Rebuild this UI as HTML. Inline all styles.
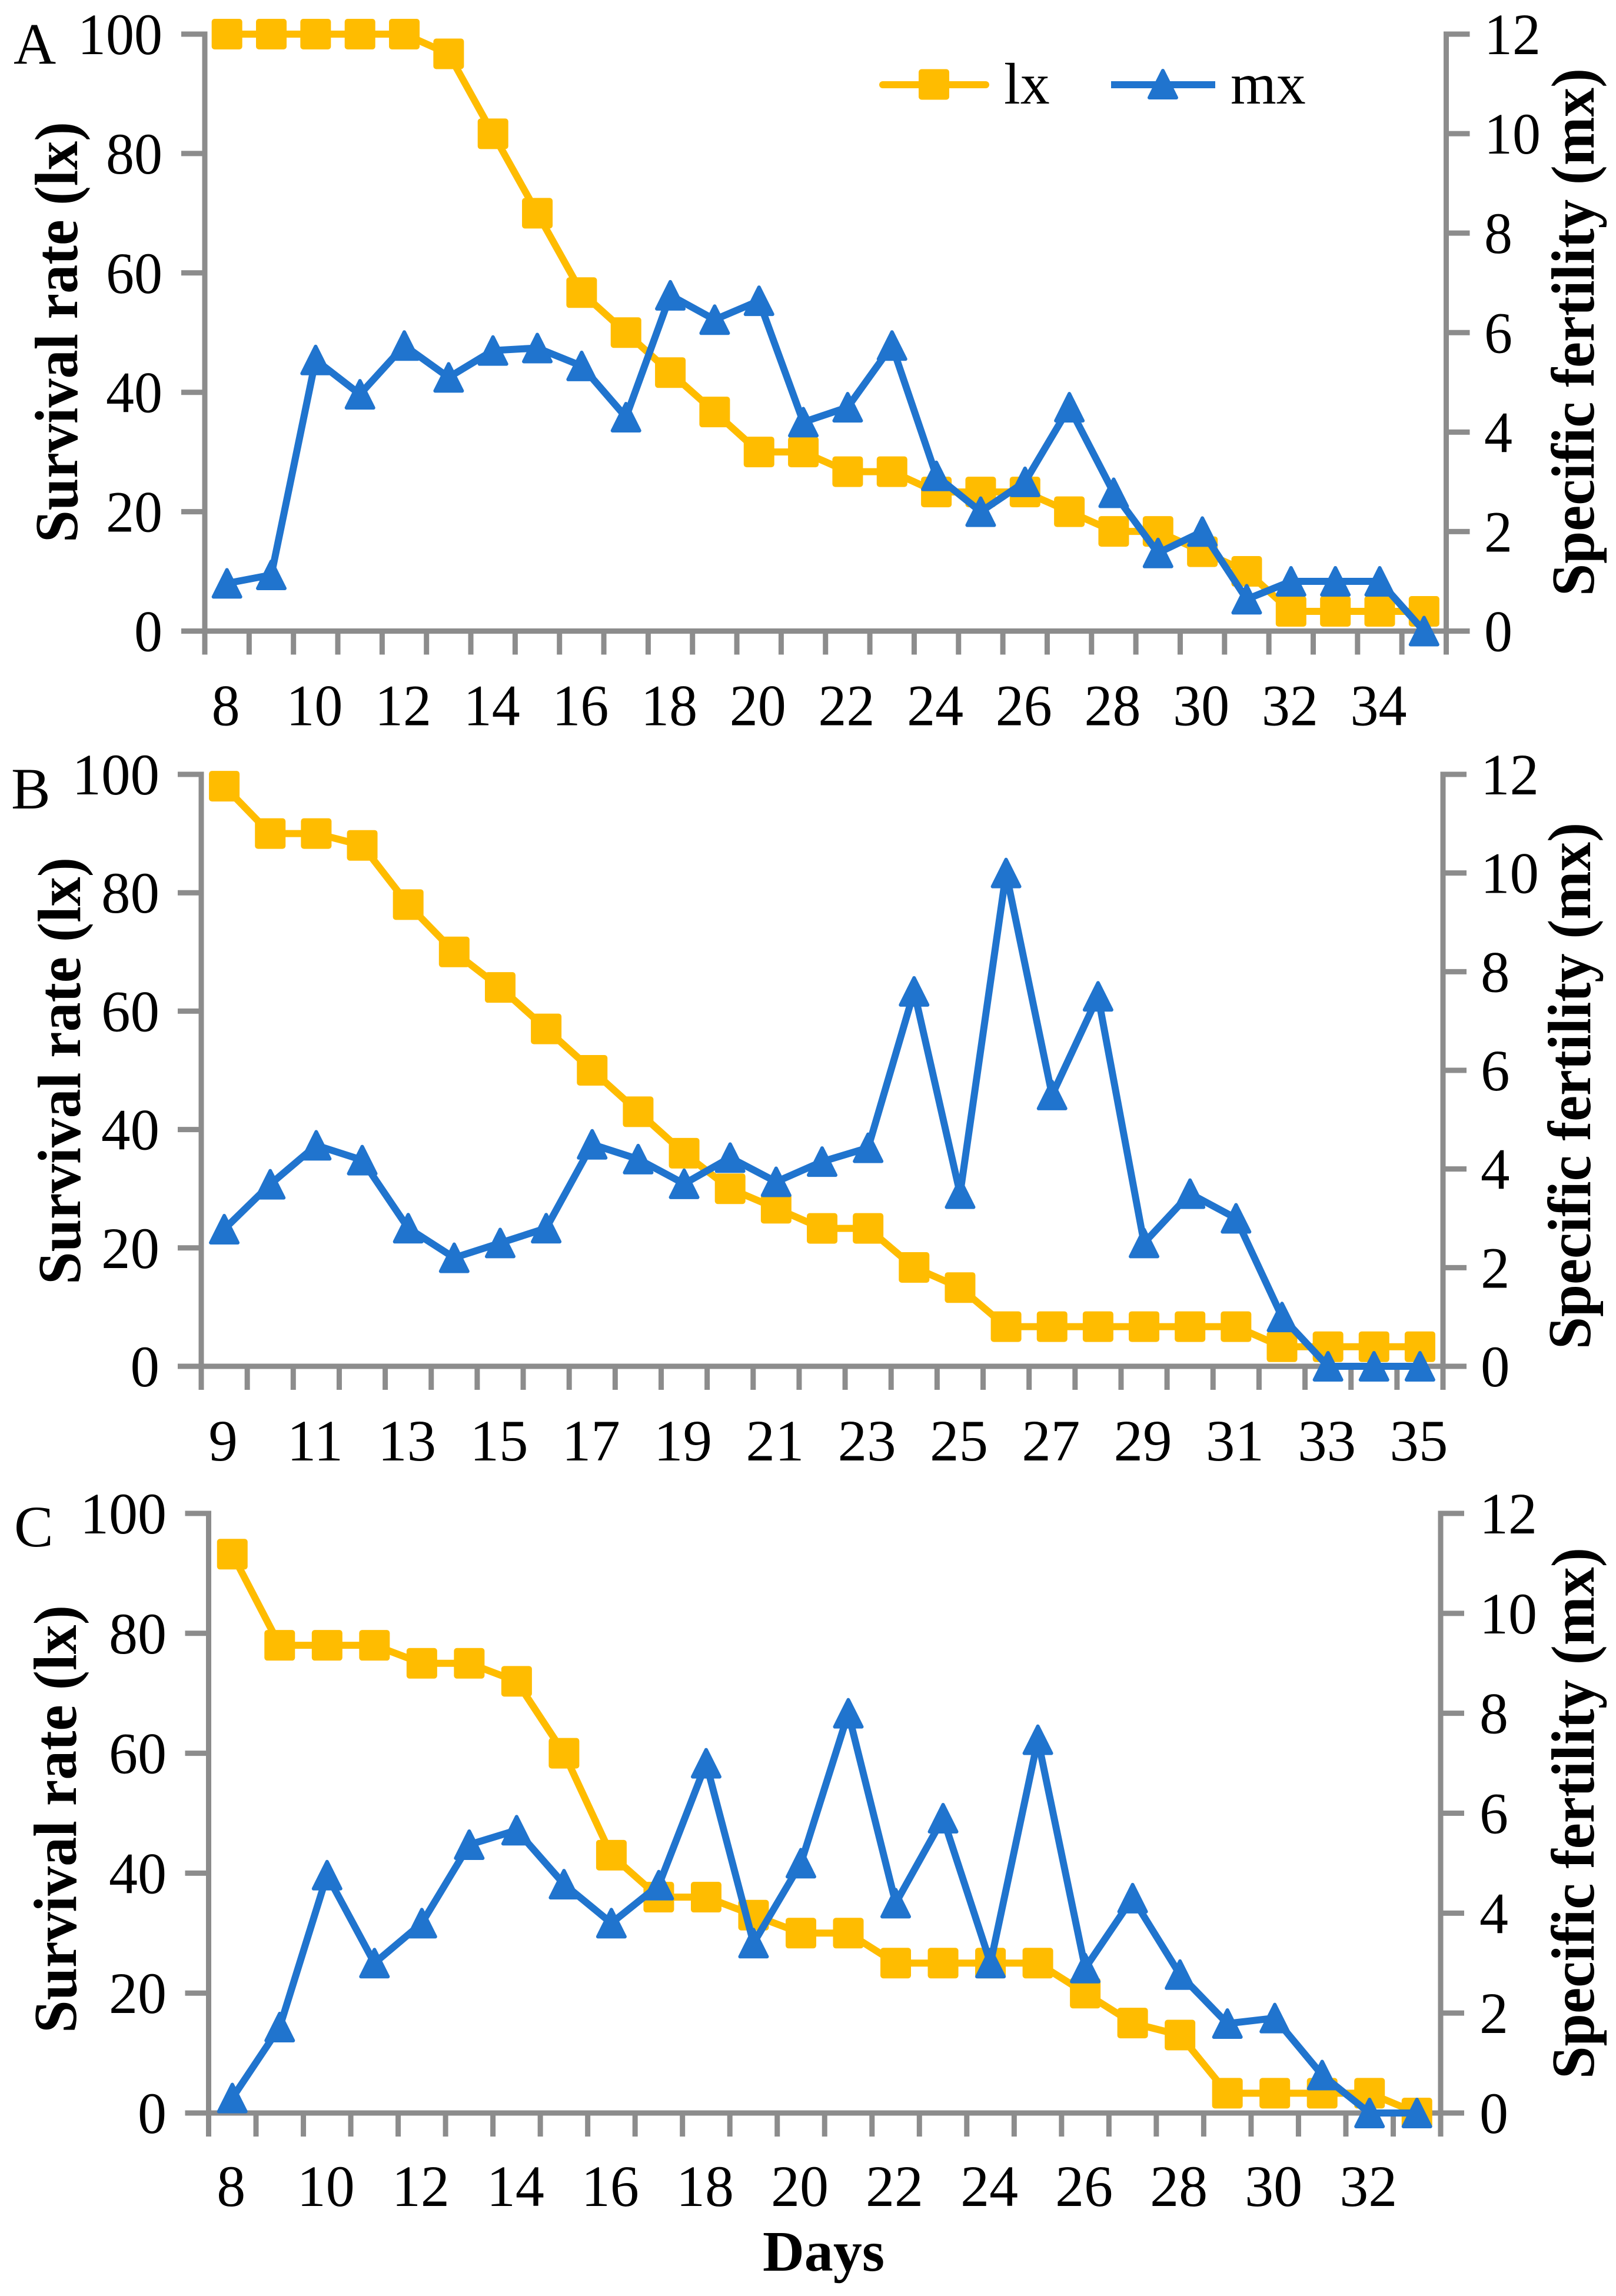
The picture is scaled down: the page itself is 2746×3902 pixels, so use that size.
<!DOCTYPE html>
<html lang="en">
<head>
<meta charset="utf-8">
<title>Survival rate and specific fertility</title>
<style>
html,body{margin:0;padding:0;background:#fff;}
svg{display:block;}
text{font-family:"Liberation Serif",serif;fill:#000;}
</style>
</head>
<body>
<svg id="chart" xmlns="http://www.w3.org/2000/svg" width="2746" height="3902" viewBox="0 0 2746 3902">
  <rect x="0" y="0" width="2746" height="3902" fill="#ffffff"/>
</svg>
<script>
// ---- Data ----
const daysA = [8,9,10,11,12,13,14,15,16,17,18,19,20,21,22,23,24,25,26,27,28,29,30,31,32,33,34,35];
const lxA = [100,100,100,100,100,96.7,83.3,70,56.7,50,43.3,36.7,30,30,26.7,26.7,23.3,23.3,23.3,20,16.7,16.7,13.3,10,3.3,3.3,3.3,3.3];
const mxA = [0.96,1.13,5.45,4.76,5.74,5.1,5.64,5.69,5.33,4.3,6.75,6.26,6.64,4.2,4.5,5.74,3.12,2.4,3.0,4.5,2.78,1.57,2.0,0.64,1.0,1.0,1.0,0];

const daysB = [9,10,11,12,13,14,15,16,17,18,19,20,21,22,23,24,25,26,27,28,29,30,31,32,33,34,35];
const lxB = [98,90,90,88,78,70,64,57,50,43,36,30,26.7,23.3,23.3,16.7,13.3,6.7,6.7,6.7,6.7,6.7,6.7,3.3,3.3,3.3,3.3];
const mxB = [2.78,3.69,4.48,4.18,2.8,2.2,2.5,2.8,4.5,4.2,3.7,4.23,3.74,4.15,4.43,7.6,3.5,10,5.5,7.5,2.5,3.5,3.0,1.0,0,0,0];

const daysC = [8,9,10,11,12,13,14,15,16,17,18,19,20,21,22,23,24,25,26,27,28,29,30,31,32,33];
const lxC = [93.2,78,78,78,75,75,72,60,43,36,36,33,30,30,25,25,25,25,20,15,13,3.3,3.3,3.3,3.3,0];
const mxC = [0.3,1.72,4.76,3.0,3.8,5.37,5.66,4.58,3.8,4.56,7.0,3.4,5.0,8.0,4.2,5.9,3.0,7.47,2.9,4.3,2.77,1.79,1.9,0.76,0,0];

const lxTicks = [0,20,40,60,80,100];
const mxTicks = [0,2,4,6,8,10,12];
const lxMax = 100;
const mxMax = 12;

// ---- Style ----
const AXIS = '#8c8c8c', GOLD = '#ffbc00', BLUE = '#2074ce';
const AXIS_W = 9, LINE_W = 12;
const NS = 'http://www.w3.org/2000/svg';
const svg = document.getElementById('chart');

function make(tag, attrs, parent) {
  const e = document.createElementNS(NS, tag);
  for (const k in attrs) e.setAttribute(k, attrs[k]);
  (parent || svg).appendChild(e);
  return e;
}

function label(parent, str, x, y, sx, sy, anchor, weight) {
  const t = make('text', {
    transform: 'translate(' + x + ',' + y + ') scale(' + sx + ',' + sy + ')',
    'font-size': 100,
    'text-anchor': anchor,
    'font-weight': weight || 'normal'
  }, parent);
  t.textContent = str;
  return t;
}

function verticalTitle(parent, str, x, yBottom, length) {
  const t = make('text', {
    transform: 'translate(' + x + ',' + yBottom + ') rotate(-90)',
    'font-size': 104,
    'font-weight': 'bold',
    textLength: length,
    lengthAdjust: 'spacingAndGlyphs'
  }, parent);
  t.textContent = str;
  return t;
}

function squareMarker(parent, cx, cy, size) {
  return make('rect', {x: cx - size/2, y: cy - size/2, width: size, height: size, rx: 5, fill: GOLD}, parent);
}

function triangleMarker(parent, cx, cy, size) {
  const half = size / 2 - 3;
  const pts = (cx - half) + ',' + (cy + size/2 - 3) + ' ' + (cx + half) + ',' + (cy + size/2 - 3) + ' ' + cx + ',' + (cy - size/2 + 3);
  return make('polygon', {points: pts, fill: BLUE, stroke: BLUE, 'stroke-width': 6, 'stroke-linejoin': 'round'}, parent);
}

function drawPanel(id, days, lx, mx, box, type) {
  const g = make('g', {}, svg);
  
  

  const band = (box.right - box.left) / days.length;
  const xScale = i => box.left + band * (i + 0.5);
  const yLx = v => box.bottom - (v / lxMax) * (box.bottom - box.top);
  const yMx = v => box.bottom - (v / mxMax) * (box.bottom - box.top);

  // axis lines
  const axes = make('path', {
    d: 'M' + box.left + ' ' + (box.top - AXIS_W/2) + 'V' + box.bottom + 'H' + box.right + 'V' + (box.top - AXIS_W/2),
    fill: 'none', stroke: AXIS, 'stroke-width': AXIS_W
  }, g);
  
  

  // left ticks and labels
  lxTicks.forEach(v => {
    const y = yLx(v);
    const tk = make('line', {x1: box.left - 40, x2: box.left, y1: y, y2: y, stroke: AXIS, 'stroke-width': AXIS_W}, g);
    
    
    const t = label(g, String(v), box.leftLabelX, y + 34, type.sx, type.sy, 'end');
    
    
  });

  // right ticks and labels
  mxTicks.forEach(v => {
    const y = yMx(v);
    const tk = make('line', {x1: box.right, x2: box.right + 40, y1: y, y2: y, stroke: AXIS, 'stroke-width': AXIS_W}, g);
    
    
    const t = label(g, String(v), box.rightLabelX, y + 34, type.sx, type.sy, 'start');
    
    
  });

  // x ticks
  for (let i = 0; i <= days.length; i++) {
    const x = box.left + band * i;
    const tk = make('line', {x1: x, x2: x, y1: box.bottom, y2: box.bottom + 40, stroke: AXIS, 'stroke-width': AXIS_W}, g);
    
    
  }

  // x labels: every second day
  days.forEach((d, i) => {
    if (i % 2 !== 0) return;
    const t = label(g, String(d), xScale(i) - 2, box.bottom + box.xLabelDrop, type.sx, type.sy, 'middle');
    
    
  });

  // titles
  const lt = verticalTitle(g, 'Survival rate (lx)', box.leftTitleX, box.leftTitleBottom, box.leftTitleLen);
  
  
  const rt = verticalTitle(g, 'Specific fertility (mx)', box.rightTitleX, box.rightTitleBottom, box.rightTitleLen);
  
  

  // panel letter
  const letter = label(g, id, box.letterX, box.letterY, 1, type.sy, 'start');
  
  

  // lx series
  const lxLine = make('polyline', {
    points: lx.map((v, i) => xScale(i) + ',' + yLx(v)).join(' '),
    fill: 'none', stroke: GOLD, 'stroke-width': LINE_W, 'stroke-linejoin': 'round'
  }, g);
  
  
  lx.forEach((v, i) => {
    const m = squareMarker(g, xScale(i), yLx(v), 52);
    
    
  });

  // mx series
  const mxLine = make('polyline', {
    points: mx.map((v, i) => xScale(i) + ',' + yMx(v)).join(' '),
    fill: 'none', stroke: BLUE, 'stroke-width': LINE_W, 'stroke-linejoin': 'round'
  }, g);
  
  
  mx.forEach((v, i) => {
    const m = triangleMarker(g, xScale(i), yMx(v), 52);
    
    
  });
}

drawPanel('A', daysA, lxA, mxA, {
  left: 348, right: 2457.5, top: 58, bottom: 1072.5,
  leftLabelX: 276, rightLabelX: 2522, xLabelDrop: 160,
  leftTitleX: 131, leftTitleBottom: 922, leftTitleLen: 715,
  rightTitleX: 2708, rightTitleBottom: 1013, rightTitleLen: 897,
  letterX: 23, letterY: 108
}, {sx: 0.96, sy: 1});

drawPanel('B', daysB, lxB, mxB, {
  left: 342, right: 2452, top: 1316, bottom: 2322,
  leftLabelX: 271, rightLabelX: 2516, xLabelDrop: 160,
  leftTitleX: 136, leftTitleBottom: 2183, leftTitleLen: 726,
  rightTitleX: 2702, rightTitleBottom: 2293, rightTitleLen: 895,
  letterX: 19, letterY: 1374
}, {sx: 0.99, sy: 1});

drawPanel('C', daysC, lxC, mxC, {
  left: 354.5, right: 2448, top: 2572, bottom: 3591,
  leftLabelX: 283, rightLabelX: 2514, xLabelDrop: 158,
  leftTitleX: 129, leftTitleBottom: 3455, leftTitleLen: 727,
  rightTitleX: 2708, rightTitleBottom: 3533, rightTitleLen: 903,
  letterX: 24, letterY: 2628
}, {sx: 0.98, sy: 1});

// x-axis title
const daysTitle = make('text', {
  x: 1296, y: 3859, 'font-size': 98, 'font-weight': 'bold',
  textLength: 207, lengthAdjust: 'spacingAndGlyphs'
}, svg);
daysTitle.textContent = 'Days';



// legend
const legend = make('g', {}, svg);



const legLxLine = make('line', {x1: 1500, x2: 1675, y1: 144, y2: 144, stroke: GOLD, 'stroke-width': LINE_W, 'stroke-linecap': 'round'}, legend);


const legLxMark = squareMarker(legend, 1587, 143.5, 52);


const legLxText = label(legend, 'lx', 1706, 176, 1, 1, 'start');



const legMxLine = make('line', {x1: 1888, x2: 2065, y1: 144, y2: 144, stroke: BLUE, 'stroke-width': LINE_W}, legend);


const legMxMark = triangleMarker(legend, 1976, 143, 52);


const legMxText = label(legend, 'mx', 2091, 176, 1, 1, 'start');


</script>
</body>
</html>
